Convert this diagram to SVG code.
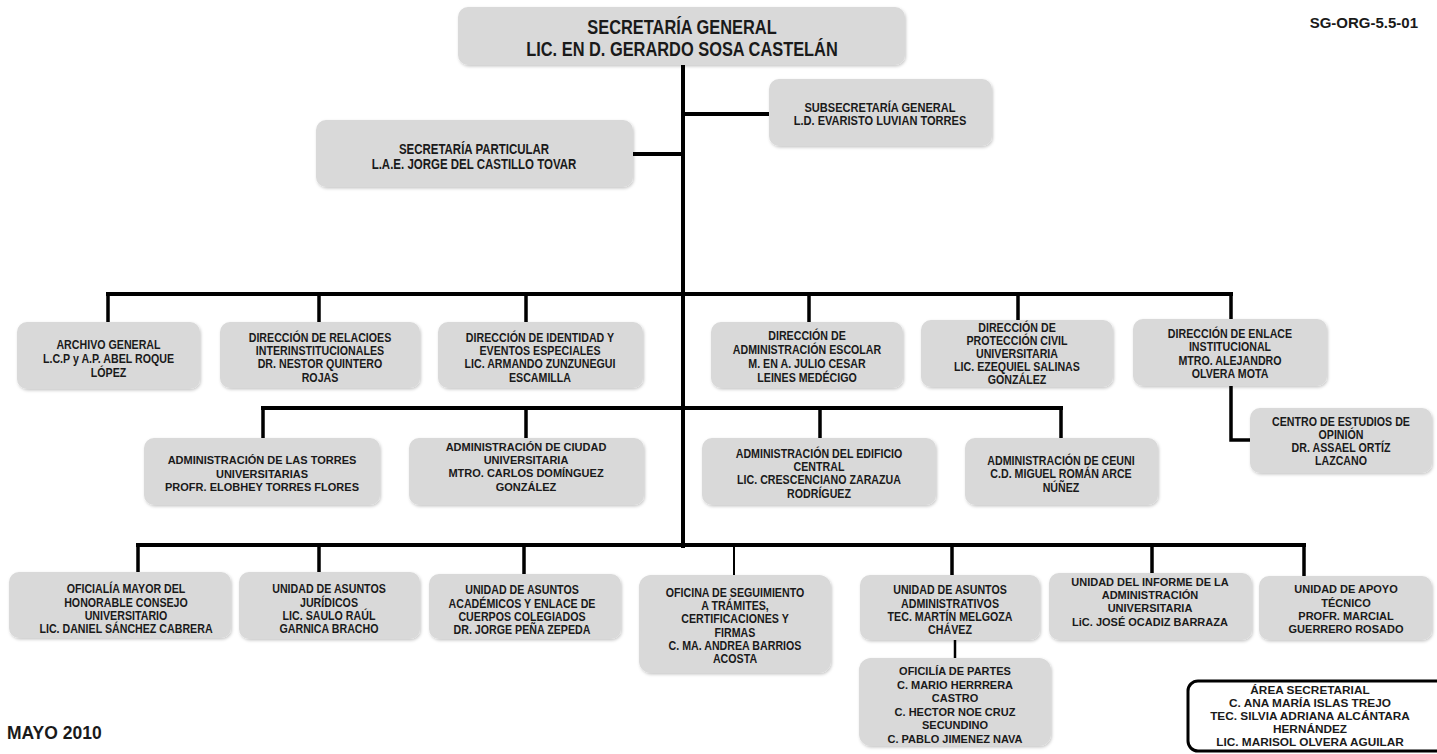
<svg xmlns="http://www.w3.org/2000/svg" width="1437" height="754" viewBox="0 0 1437 754">
<defs>
<filter id="sh" x="-5%" y="-5%" width="115%" height="120%"><feDropShadow dx="1" dy="1.5" stdDeviation="1.5" flood-color="#000" flood-opacity="0.22"/></filter>
<style>
.b{fill:#d9d9d9;filter:url(#sh)}
.n{font-family:"Liberation Sans",Arial,sans-serif;font-weight:bold;font-size:13px;fill:#1a1a1a;text-anchor:middle}
.r{font-family:"Liberation Sans",Arial,sans-serif;font-weight:bold;font-size:11px;fill:#1a1a1a;text-anchor:middle}
.c{fill:none;stroke:#000;stroke-width:4;stroke-linecap:square}
.d{fill:none;stroke:#000;stroke-width:3.5}
</style>
</defs>
<rect width="1437" height="754" fill="#fff"/>
<g id="connectors">
<path class="c" d="M683 65V546"/>
<path class="c" d="M683 114H769M633 154H683"/>
<path class="c" d="M108 294H1231"/>
<path class="d" d="M108 294V322M319 294V322M526 294V322M809 294V322M1018 294V320M1231 294V319"/>
<path class="d" d="M1231 386V440H1250"/>
<path class="c" d="M263 408H1061"/>
<path class="d" d="M263 408V438M526 408V438M820 408V438M1061 408V438"/>
<path class="c" d="M138 545H1304"/>
<path class="d" d="M138 545V572M319 545V572M524 545V574M952 545V575M1152 545V574M1304 545V576"/>
<path fill="none" stroke="#000" stroke-width="2" d="M734 545V575"/>
<path fill="none" stroke="#000" stroke-width="2.5" d="M955 640V658"/>
</g>
<g id="secretaria-general"><rect class="b" x="458" y="7" width="447" height="58" rx="10"/>
<text class="n" style="font-size:20px" transform="translate(682 0) scale(.82 1)"><tspan x="0" y="34">SECRETARÍA GENERAL</tspan><tspan x="0" y="56">LIC. EN D. GERARDO SOSA CASTELÁN</tspan></text></g>
<g id="subsecretaria"><rect class="b" x="769" y="79" width="223" height="67" rx="10"/>
<text class="n" style="font-size:13.5px" transform="translate(880 0) scale(.82 1)"><tspan x="0" y="112">SUBSECRETARÍA GENERAL</tspan><tspan x="0" y="125">L.D. EVARISTO LUVIAN TORRES</tspan></text></g>
<g id="secretaria-particular"><rect class="b" x="316" y="120" width="317" height="67" rx="10"/>
<text class="n" style="font-size:14px" transform="translate(474 0) scale(.82 1)"><tspan x="0" y="154">SECRETARÍA PARTICULAR</tspan><tspan x="0" y="169">L.A.E. JORGE DEL CASTILLO TOVAR</tspan></text></g>
<g id="archivo"><rect class="b" x="17" y="322" width="183" height="67" rx="10"/>
<text class="n" transform="translate(108.5 0) scale(.82 1)"><tspan x="0" y="349">ARCHIVO GENERAL</tspan><tspan x="0" y="363">L.C.P y A.P. ABEL ROQUE</tspan><tspan x="0" y="377">LÓPEZ</tspan></text></g>
<g id="relaciones"><rect class="b" x="220" y="322" width="200" height="66" rx="10"/>
<text class="n" transform="translate(320 0) scale(.82 1)"><tspan x="0" y="342">DIRECCIÓN DE RELACIOES</tspan><tspan x="0" y="355">INTERINSTITUCIONALES</tspan><tspan x="0" y="368">DR. NESTOR QUINTERO</tspan><tspan x="0" y="382">ROJAS</tspan></text></g>
<g id="identidad"><rect class="b" x="438" y="322" width="205" height="66" rx="10"/>
<text class="n" transform="translate(540 0) scale(.82 1)"><tspan x="0" y="342">DIRECCIÓN DE IDENTIDAD Y</tspan><tspan x="0" y="355">EVENTOS ESPECIALES</tspan><tspan x="0" y="368">LIC. ARMANDO ZUNZUNEGUI</tspan><tspan x="0" y="382">ESCAMILLA</tspan></text></g>
<g id="adm-escolar"><rect class="b" x="711" y="322" width="192" height="66" rx="10"/>
<text class="n" transform="translate(807 0) scale(.82 1)"><tspan x="0" y="340">DIRECCIÓN DE</tspan><tspan x="0" y="354">ADMINISTRACIÓN ESCOLAR</tspan><tspan x="0" y="368">M. EN A. JULIO CESAR</tspan><tspan x="0" y="382">LEINES MEDÉCIGO</tspan></text></g>
<g id="proteccion-civil"><rect class="b" x="921" y="320" width="192" height="67" rx="10"/>
<text class="n" transform="translate(1017 0) scale(.82 1)"><tspan x="0" y="332">DIRECCIÓN  DE</tspan><tspan x="0" y="345">PROTECCIÓN CIVIL</tspan><tspan x="0" y="358">UNIVERSITARIA</tspan><tspan x="0" y="371">LIC. EZEQUIEL SALINAS</tspan><tspan x="0" y="384">GONZÁLEZ</tspan></text></g>
<g id="enlace"><rect class="b" x="1133" y="319" width="194" height="67" rx="10"/>
<text class="n" transform="translate(1230 0) scale(.82 1)"><tspan x="0" y="338">DIRECCIÓN DE ENLACE</tspan><tspan x="0" y="351">INSTITUCIONAL</tspan><tspan x="0" y="365">MTRO. ALEJANDRO</tspan><tspan x="0" y="378">OLVERA MOTA</tspan></text></g>
<g id="centro-estudios"><rect class="b" x="1250" y="408" width="182" height="65" rx="10"/>
<text class="n" transform="translate(1341 0) scale(.82 1)"><tspan x="0" y="426">CENTRO DE ESTUDIOS DE</tspan><tspan x="0" y="439">OPINIÓN</tspan><tspan x="0" y="452">DR. ASSAEL ORTÍZ</tspan><tspan x="0" y="465">LAZCANO</tspan></text></g>
<g id="torres"><rect class="b" x="144" y="438" width="236" height="67" rx="10"/>
<text class="r"><tspan x="262" y="464">ADMINISTRACIÓN DE LAS TORRES</tspan><tspan x="262" y="478">UNIVERSITARIAS</tspan><tspan x="262" y="491">PROFR. ELOBHEY TORRES FLORES</tspan></text></g>
<g id="ciudad-universitaria"><rect class="b" x="409" y="438" width="235" height="67" rx="10"/>
<text class="r"><tspan x="526" y="451">ADMINISTRACIÓN DE CIUDAD</tspan><tspan x="526" y="464">UNIVERSITARIA</tspan><tspan x="526" y="477">MTRO. CARLOS DOMÍNGUEZ</tspan><tspan x="526" y="491">GONZÁLEZ</tspan></text></g>
<g id="edificio-central"><rect class="b" x="702" y="438" width="234" height="67" rx="10"/>
<text class="n" transform="translate(819 0) scale(.82 1)"><tspan x="0" y="458">ADMINISTRACIÓN DEL EDIFICIO</tspan><tspan x="0" y="471">CENTRAL</tspan><tspan x="0" y="484">LIC. CRESCENCIANO ZARAZUA</tspan><tspan x="0" y="498">RODRÍGUEZ</tspan></text></g>
<g id="ceuni"><rect class="b" x="965" y="438" width="193" height="67" rx="10"/>
<text class="n" transform="translate(1061 0) scale(.82 1)"><tspan x="0" y="465">ADMINISTRACIÓN DE CEUNI</tspan><tspan x="0" y="478">C.D. MIGUEL ROMÁN ARCE</tspan><tspan x="0" y="492">NÚÑEZ</tspan></text></g>
<g id="oficialia-mayor"><rect class="b" x="9" y="572" width="222" height="66" rx="10"/>
<text class="n" transform="translate(126 0) scale(.82 1)"><tspan x="0" y="593">OFICIALÍA MAYOR DEL</tspan><tspan x="0" y="607">HONORABLE CONSEJO</tspan><tspan x="0" y="620">UNIVERSITARIO</tspan><tspan x="0" y="633">LIC. DANIEL SÁNCHEZ CABRERA</tspan></text></g>
<g id="juridicos"><rect class="b" x="239" y="572" width="181" height="67" rx="10"/>
<text class="n" transform="translate(329 0) scale(.82 1)"><tspan x="0" y="593">UNIDAD DE ASUNTOS</tspan><tspan x="0" y="607">JURÍDICOS</tspan><tspan x="0" y="620">LIC. SAULO RAÚL</tspan><tspan x="0" y="633">GARNICA BRACHO</tspan></text></g>
<g id="academicos"><rect class="b" x="429" y="574" width="192" height="65" rx="10"/>
<text class="n" transform="translate(522 0) scale(.82 1)"><tspan x="0" y="594">UNIDAD DE ASUNTOS</tspan><tspan x="0" y="608">ACADÉMICOS Y ENLACE DE</tspan><tspan x="0" y="621">CUERPOS COLEGIADOS</tspan><tspan x="0" y="634">DR. JORGE PEÑA  ZEPEDA</tspan></text></g>
<g id="seguimiento"><rect class="b" x="639" y="575" width="192" height="98" rx="12"/>
<text class="n" transform="translate(735 0) scale(.82 1)"><tspan x="0" y="597">OFICINA DE SEGUIMIENTO</tspan><tspan x="0" y="610">A TRÁMITES,</tspan><tspan x="0" y="623">CERTIFICACIONES Y</tspan><tspan x="0" y="637">FIRMAS</tspan><tspan x="0" y="650">C. MA. ANDREA BARRIOS</tspan><tspan x="0" y="663">ACOSTA</tspan></text></g>
<g id="administrativos"><rect class="b" x="860" y="575" width="180" height="65" rx="10"/>
<text class="n" transform="translate(950 0) scale(.82 1)"><tspan x="0" y="594">UNIDAD DE ASUNTOS</tspan><tspan x="0" y="608">ADMINISTRATIVOS</tspan><tspan x="0" y="621">TEC. MARTÍN MELGOZA</tspan><tspan x="0" y="634">CHÁVEZ</tspan></text></g>
<g id="oficilia-partes"><rect class="b" x="859" y="658" width="192" height="88" rx="12"/>
<text class="r"><tspan x="955" y="675">OFICILÍA DE PARTES</tspan><tspan x="955" y="688.5">C. MARIO HERRRERA</tspan><tspan x="955" y="702">CASTRO</tspan><tspan x="955" y="715.5">C. HECTOR NOE CRUZ</tspan><tspan x="955" y="729">SECUNDINO</tspan><tspan x="955" y="742.5">C. PABLO JIMENEZ NAVA</tspan></text></g>
<g id="informe"><rect class="b" x="1049" y="573" width="203" height="67" rx="10"/>
<text class="r"><tspan x="1150" y="586">UNIDAD DEL INFORME DE LA</tspan><tspan x="1150" y="599">ADMINISTRACIÓN</tspan><tspan x="1150" y="612">UNIVERSITARIA</tspan><tspan x="1150" y="626">LiC. JOSÉ OCADIZ BARRAZA</tspan></text></g>
<g id="apoyo-tecnico"><rect class="b" x="1259" y="576" width="173" height="64" rx="10"/>
<text class="r"><tspan x="1346" y="593">UNIDAD DE APOYO</tspan><tspan x="1346" y="607">TÉCNICO</tspan><tspan x="1346" y="620">PROFR. MARCIAL</tspan><tspan x="1346" y="633">GUERRERO ROSADO</tspan></text></g>
<g id="area-secretarial"><rect x="1188" y="681" width="262" height="70" rx="10" fill="#fff" stroke="#000" stroke-width="3"/>
<text class="r" style="font-size:11.8px"><tspan x="1310" y="694">ÁREA SECRETARIAL</tspan><tspan x="1310" y="707">C. ANA MARÍA ISLAS TREJO</tspan><tspan x="1310" y="720">TEC. SILVIA ADRIANA ALCÁNTARA</tspan><tspan x="1310" y="733">HERNÁNDEZ</tspan><tspan x="1310" y="746">LIC. MARISOL OLVERA AGUILAR</tspan></text></g>
<text x="1418" y="28" font-family="Liberation Sans, Arial, sans-serif" font-weight="bold" font-size="15" text-anchor="end" fill="#1a1a1a">SG-ORG-5.5-01</text>
<text x="7" y="739" font-family="Liberation Sans, Arial, sans-serif" font-weight="bold" font-size="17.5" fill="#1a1a1a">MAYO 2010</text>
</svg>
